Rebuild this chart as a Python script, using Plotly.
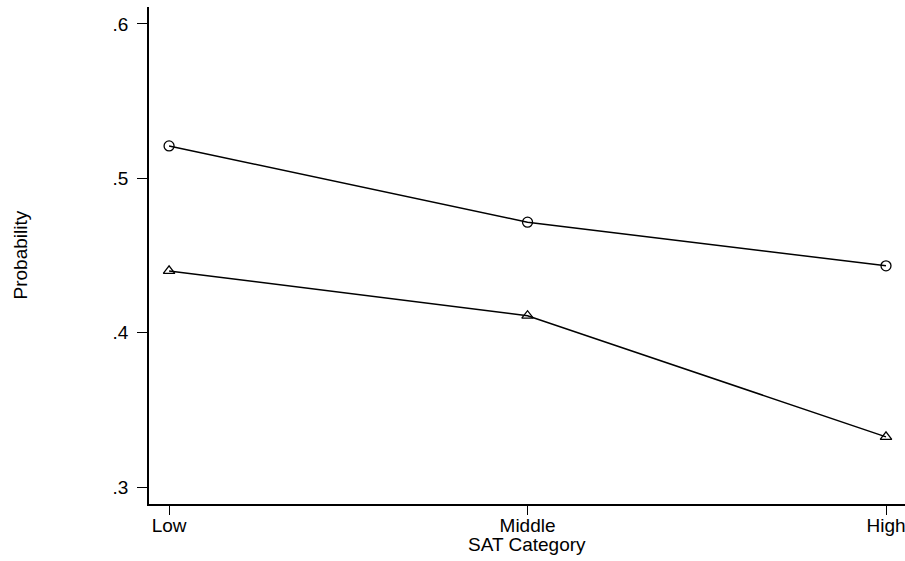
import plotly.graph_objects as go

categories = ["Low", "Middle", "High"]
series_circle = [0.521, 0.4716, 0.4433]
series_triangle = [0.440, 0.411, 0.3325]
y_ticks = [0.3, 0.4, 0.5, 0.6]
y_tick_labels = [".3", ".4", ".5", ".6"]

FONT = "Liberation Sans, Arial, sans-serif"
xpos = list(range(len(categories)))

fig = go.Figure()
fig.add_trace(go.Scatter(
    x=xpos, y=series_circle, mode="lines+markers",
    line=dict(color="black", width=1.5),
    marker=dict(symbol="circle-open", size=10, color="black", line=dict(width=1.3)),
    showlegend=False))
fig.add_trace(go.Scatter(
    x=xpos, y=series_triangle, mode="lines+markers",
    line=dict(color="black", width=1.5),
    marker=dict(symbol="triangle-up-open", size=10, color="black", line=dict(width=1.3)),
    showlegend=False))

fig.update_layout(
    width=905, height=561,
    margin=dict(l=149, r=0, t=7, b=57),
    paper_bgcolor="white", plot_bgcolor="white",
    font=dict(family=FONT, size=19, color="black"),
    xaxis=dict(
        range=[-0.056, 2.053], tickvals=xpos, ticktext=categories,
        showgrid=False, zeroline=False, showline=True, linecolor="black", linewidth=1.5,
        ticks="outside", ticklen=9, tickwidth=1, tickcolor="black",
        ticklabelstandoff=-6, automargin=False, ticklabeloverflow="allow",
        tickfont=dict(family=FONT, size=19, color="black")),
    yaxis=dict(
        range=[0.289, 0.611], tickvals=y_ticks, ticktext=y_tick_labels,
        showgrid=False, zeroline=False, showline=True, linecolor="black", linewidth=1.5,
        ticks="outside", ticklen=10, tickwidth=1, tickcolor="black",
        ticklabelstandoff=5, automargin=False, ticklabeloverflow="allow",
        tickfont=dict(family=FONT, size=19, color="black")),
    annotations=[
        dict(text="SAT Category", xref="paper", yref="paper", x=0.5, y=0,
             xanchor="center", yanchor="middle", yshift=-40, showarrow=False,
             xshift=(527 - (149 + 905) / 2),
             font=dict(family=FONT, size=19, color="black")),
        dict(text="Probability", xref="paper", yref="paper", x=0, y=0.5,
             xanchor="center", yanchor="middle", xshift=-129, showarrow=False,
             textangle=-90, font=dict(family=FONT, size=19, color="black")),
    ],
)

fig.write_html("out.html", config={"displayModeBar": False},
               post_script="document.body.style.margin='0';document.body.style.padding='0';")
